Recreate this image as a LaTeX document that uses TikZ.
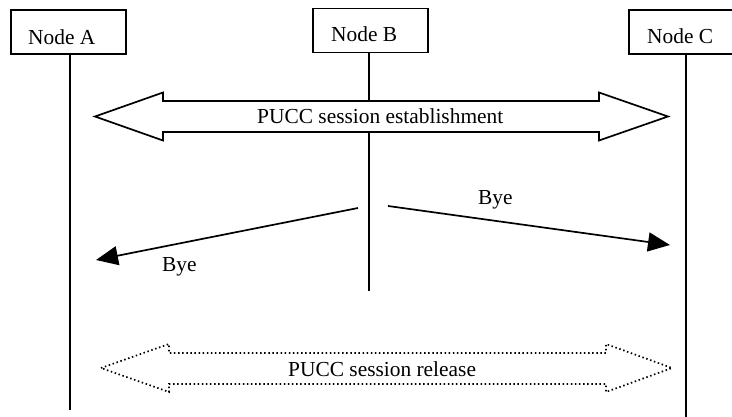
\documentclass[tikz,border=0pt]{standalone}
\usepackage{fontspec}
\setmainfont{Liberation Serif}
\usetikzlibrary{arrows.meta}

\begin{document}
\begin{tikzpicture}[x=1pt,y=-1pt,
  every node/.style={font=\fontsize{21.4}{24}\selectfont},
  entity/.style={draw,line width=1.7pt,minimum width=115pt,minimum height=44pt,inner sep=0pt},
  tag/.style={anchor=base west,inner sep=0pt},
  lifeline/.style={line width=1.7pt},
  blockarrow/.style={draw,fill=white,line width=1.7pt,line join=miter},
  dottedarrow/.style={draw,fill=white,line width=1.7pt,dash pattern=on 1.5pt off 2.6pt,line join=miter},
  msg/.style={line width=1.7pt,-{Triangle[length=22pt,width=19pt]}}
]
\clip (0,0) rectangle (732,417);

% entity boxes
\node[entity] (A) at (68.5,32) {};
\node[entity] (B) at (370.5,30.5) {};
\node[entity] (C) at (686.5,32) {};
\node[tag] (Alab) at (28,45) {Node A};
\node[tag] (Blab) at (331,42) {Node B};
\node[tag] (Clab) at (647,44) {Node C};

% lifeline ends
\coordinate (Aend) at (70,410);
\coordinate (Bend) at (369,291);
\coordinate (Cend) at (686,420);
\draw[lifeline] (A.south -| Aend) -- (Aend);
\draw[lifeline] (B.south -| Bend) -- (Bend);
\draw[lifeline] (C.south -| Cend) -- (Cend);

% session establishment
\path[blockarrow] (95,116.5) -- (163,92.5) -- (163,101) -- (599,101) -- (599,92.5)
  -- (668,116.5) -- (599,140.5) -- (599,132) -- (163,132) -- (163,140.5) -- cycle;
\node[tag] (est) at (257,124) {PUCC session establishment};

% Bye messages from Node B
\coordinate (b1s) at (358,208);
\coordinate (b1e) at (96,260);
\coordinate (b2s) at (388,206);
\coordinate (b2e) at (670,245);
\draw[msg] (b1s) -- (b1e);
\draw[msg] (b2s) -- (b2e);
\node[tag] (bye1) at (162,272) {Bye};
\node[tag] (bye2) at (478,205) {Bye};

% session release
\path[dottedarrow] (101,368) -- (169,344) -- (169,353) -- (606,353) -- (606,344)
  -- (672,368) -- (606,392) -- (606,384) -- (169,384) -- (169,392) -- cycle;
\node[tag] (rel) at (288,376) {PUCC session release};
\end{tikzpicture}
\end{document}
